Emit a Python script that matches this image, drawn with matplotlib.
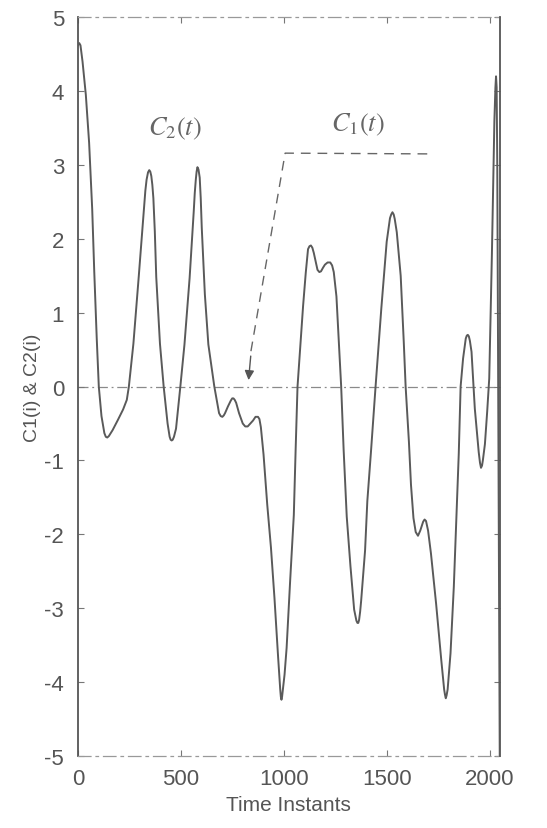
# Curvas C1(t) y C2(t) en el tiempo (recreación de una figura escaneada)
import matplotlib
matplotlib.use("Agg")
import matplotlib.pyplot as plt

# instantes de tiempo
t = [0, 6, 12, 22, 38, 54, 69, 79, 91, 101, 114, 128, 135, 142, 150, 168,
     194, 219, 237, 247, 269, 295, 320, 327, 333, 340, 346, 351, 356, 361,
     366, 373, 380, 398, 416, 435, 445, 450, 455, 460, 466, 476, 497, 517,
     542, 562, 567, 572, 576, 580, 585, 591, 596, 601, 616, 633, 662, 685,
     693, 701, 708, 714, 728, 742, 749, 755, 761, 768, 782, 800, 812, 824,
     837, 850, 862, 874, 881, 888, 901, 919, 937, 954, 971, 982, 985, 988,
     991, 995, 1003, 1013, 1030, 1048, 1057, 1066, 1093, 1106, 1117, 1124,
     1131, 1138, 1145, 1163, 1172, 1180, 1190, 1199, 1212, 1225, 1234, 1242,
     1255, 1266, 1278, 1290, 1305, 1323, 1341, 1352, 1357, 1361, 1365, 1370,
     1375, 1394, 1405, 1423, 1445, 1473, 1499, 1515, 1521, 1527, 1533, 1538,
     1548, 1567, 1582, 1591, 1607, 1617, 1629, 1640, 1651, 1662, 1676, 1683,
     1690, 1700, 1714, 1739, 1764, 1778, 1782, 1786, 1790, 1795, 1809, 1825,
     1837, 1849, 1858, 1870, 1883, 1888, 1893, 1898, 1903, 1911, 1927, 1946,
     1952, 1957, 1962, 1966, 1976, 1987, 1997, 2010, 2022, 2027, 2030, 2033,
     2036, 2042, 2048]
# valores de la señal
c = [4.62, 4.65, 4.62, 4.4, 3.95, 3.3, 2.4, 1.55, 0.65, 0.0, -0.4, -0.63,
     -0.68, -0.69, -0.67, -0.59, -0.45, -0.31, -0.18, 0.0, 0.58, 1.49, 2.41,
     2.65, 2.8, 2.9, 2.93, 2.91, 2.85, 2.73, 2.55, 2.1, 1.48, 0.58, 0.0,
     -0.5, -0.68, -0.72, -0.73, -0.72, -0.68, -0.57, 0.0, 0.57, 1.47, 2.37,
     2.62, 2.8, 2.91, 2.97, 2.94, 2.83, 2.55, 2.15, 1.25, 0.57, 0.0, -0.36,
     -0.4, -0.41, -0.39, -0.36, -0.27, -0.19, -0.16, -0.16, -0.18, -0.22,
     -0.36, -0.5, -0.54, -0.54, -0.5, -0.46, -0.41, -0.41, -0.44, -0.55,
     -0.92, -1.6, -2.18, -2.86, -3.63, -4.1, -4.2, -4.24, -4.2, -4.1, -3.9,
     -3.54, -2.64, -1.74, -0.84, 0.0, 1.09, 1.54, 1.86, 1.9, 1.91, 1.88, 1.81,
     1.58, 1.55, 1.56, 1.61, 1.65, 1.68, 1.68, 1.64, 1.55, 1.22, 0.63, 0.0,
     -0.86, -1.76, -2.43, -3.02, -3.17, -3.2, -3.2, -3.16, -3.05, -2.9, -2.22,
     -1.55, -0.87, 0.0, 1.06, 1.96, 2.28, 2.33, 2.36, 2.33, 2.27, 2.09, 1.5,
     0.6, 0.0, -0.75, -1.33, -1.78, -1.97, -2.02, -1.95, -1.83, -1.8, -1.82,
     -1.95, -2.26, -2.94, -3.7, -4.1, -4.17, -4.22, -4.18, -4.1, -3.61, -2.71,
     -1.81, -0.91, 0.0, 0.38, 0.65, 0.69, 0.7, 0.68, 0.62, 0.47, -0.3, -0.89,
     -1.03, -1.1, -1.07, -1.0, -0.78, -0.34, 0.11, 1.8, 3.6, 4.05, 4.2, 4.05,
     3.0, -1.0, -5.0]

xticks = [0, 500, 1000, 1500, 2000]
yticks = [-5, -4, -3, -2, -1, 0, 1, 2, 3, 4, 5]

gris = '#555555'
plt.rcParams['font.family'] = ['Liberation Sans', 'DejaVu Sans']
plt.rcParams['mathtext.fontset'] = 'stix'
plt.rcParams['axes.unicode_minus'] = False

fig = plt.figure(figsize=(5.47, 8.29), dpi=100, facecolor='white')
ax = fig.add_axes([0.1426, 0.087, 0.771, 0.891])

# línea de cero (punto y raya)
ax.axhline(0, color='#8a8a8a', lw=0.9, ls=(0, (8, 3, 1.5, 3)), zorder=1)
# señal
ax.plot(t, c, color='#5a5a5a', lw=1.4, zorder=3,
        solid_joinstyle='round', solid_capstyle='round')

# flecha punteada que señala C1(t)
ax.plot([1696, 1006, 838], [3.15, 3.16, 0.45], color='#666666', lw=1.0,
        ls=(0, (7, 5)), zorder=2)
ax.annotate('', xy=(827, 0.05), xytext=(840, 0.45),
            arrowprops=dict(arrowstyle='-|>', color='#555555', lw=1.0,
                            mutation_scale=14))

ax.text(470, 3.5, r'$C_2(t)$', fontsize=19, color='#666666',
        ha='center', va='center')
ax.text(1360, 3.55, r'$C_1(t)$', fontsize=19, color='#666666',
        ha='center', va='center')

ax.set_xlim(0, 2048)
ax.set_ylim(-5, 5)
ax.set_xticks(xticks)
ax.set_yticks(yticks)
ax.tick_params(direction='in', top=True, right=True, length=4, width=0.8,
               colors='#777777', labelcolor=gris, labelsize=16)
ax.tick_params(axis='x', pad=9)
ax.tick_params(axis='y', pad=10)

for lado in ['left', 'right']:
    ax.spines[lado].set_color('#555555')
    ax.spines[lado].set_linewidth(1.3)
for lado in ['top', 'bottom']:
    ax.spines[lado].set_color('#999999')
    ax.spines[lado].set_linewidth(0.9)
    ax.spines[lado].set_linestyle((0, (10, 4, 2, 4)))

ax.set_xlabel('Time Instants', fontsize=15, color=gris, labelpad=4)
ax.set_ylabel('C1(i) & C2(i)', fontsize=14, color=gris, labelpad=2)

fig.savefig('out.png', dpi=100, facecolor='white')
